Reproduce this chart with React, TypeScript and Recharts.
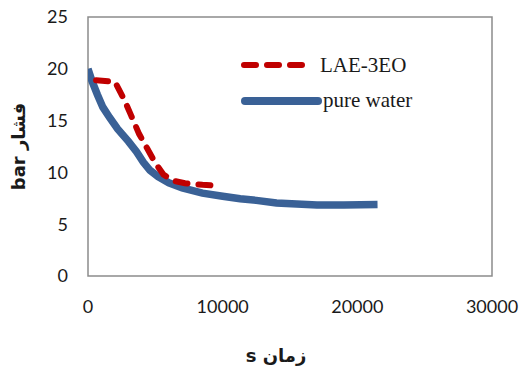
import { ComposedChart, Line, ReferenceArea, XAxis, YAxis } from "recharts";

// pure water run: time (s) vs pressure (bar)
const waterTime = [0, 300, 700, 1100, 1600, 2200, 3000, 3600, 4100, 4600, 5200, 6000, 7000, 8500, 10000, 11300, 12500, 14000, 15500, 17000, 19000, 21500];
const waterPressure = [20.0, 18.8, 17.5, 16.3, 15.3, 14.2, 13.0, 12.0, 11.0, 10.2, 9.6, 9.0, 8.5, 8.0, 7.7, 7.45, 7.3, 7.05, 6.95, 6.85, 6.85, 6.9];

// LAE-3EO run
const laeTime = [600, 2000, 2700, 3200, 3800, 4400, 5000, 5600, 6300, 7200, 8500, 9800];
const laePressure = [18.9, 18.75, 17.0, 15.5, 13.7, 12.3, 10.9, 9.8, 9.2, 8.95, 8.8, 8.7];

const xTicks = [0, 10000, 20000, 30000];
const yTicks = [0, 5, 10, 15, 20, 25];

const seriesNames = ["LAE-3EO", "pure water"];
const xTitle = "s  زمان";
const yTitle = "bar  فشار";

const RED = "#c00000";
const BLUE = "#3a6196";

const waterData = waterTime.map((t, i) => ({ t, p: waterPressure[i] }));
const laeData = laeTime.map((t, i) => ({ t, p: laePressure[i] }));

const tickStyle = { fontFamily: "Lato, sans-serif", fontSize: 18, fill: "#1a1a1a" };
const titleFont = "DejaVu Sans, sans-serif";

// legend drawn as an overlay so it doesn't eat into the plot area
const LegendBox = () => (
  <svg width={230} height={80} style={{ position: "absolute", left: 234, top: 50 }}>
    <line x1={10} y1={15} x2={72} y2={15} stroke={RED} strokeWidth={6} strokeDasharray="12 11" strokeLinecap="round" />
    <text x={86} y={22} fontFamily="Liberation Serif, serif" fontSize={21} fill="#1a1a1a">
      {seriesNames[0]}
    </text>
    <line x1={11} y1={51} x2={84} y2={51} stroke={BLUE} strokeWidth={8} strokeLinecap="round" />
    <text x={89} y={57} fontFamily="Liberation Serif, serif" fontSize={21} fill="#1a1a1a">
      {seriesNames[1]}
    </text>
  </svg>
);

export default function App() {
  // pinned to the page corner so the body margin doesn't push it past the window
  return (
    <div style={{ position: "absolute", left: 0, top: 0, width: 520, height: 370, overflow: "hidden" }}>
      <ComposedChart width={520} height={370} margin={{ top: 17, right: 28, bottom: 0, left: 0 }}>
        <XAxis
          dataKey="t"
          type="number"
          domain={[0, 30000]}
          ticks={xTicks}
          tickLine={false}
          axisLine={false}
          tick={tickStyle}
          tickMargin={18}
          height={94}
          allowDataOverflow
          label={{
            value: xTitle,
            position: "insideBottom",
            offset: 8,
            dx: -14,
            style: { fontFamily: titleFont, fontWeight: "bold", fontSize: 18, fill: "#1a1a1a" },
          }}
        />
        <YAxis
          dataKey="p"
          type="number"
          domain={[0, 25]}
          ticks={yTicks}
          tickLine={false}
          axisLine={false}
          tick={tickStyle}
          tickMargin={14}
          width={88}
          label={{
            value: yTitle,
            angle: -90,
            position: "insideLeft",
            offset: 19,
            style: { fontFamily: titleFont, fontWeight: "bold", fontSize: 18, fill: "#1a1a1a", textAnchor: "middle" },
          }}
        />
        <ReferenceArea x1={0} x2={30000} y1={0} y2={25} fill="none" stroke="#8c8c8c" strokeWidth={1.5} />
        <Line
          data={waterData}
          dataKey="p"
          stroke={BLUE}
          strokeWidth={7.5}
          dot={false}
          isAnimationActive={false}
        />
        <Line
          data={laeData}
          dataKey="p"
          stroke={RED}
          strokeWidth={6}
          strokeDasharray="12 11"
          strokeLinecap="round"
          dot={false}
          isAnimationActive={false}
        />
      </ComposedChart>
      <LegendBox />
    </div>
  );
}
